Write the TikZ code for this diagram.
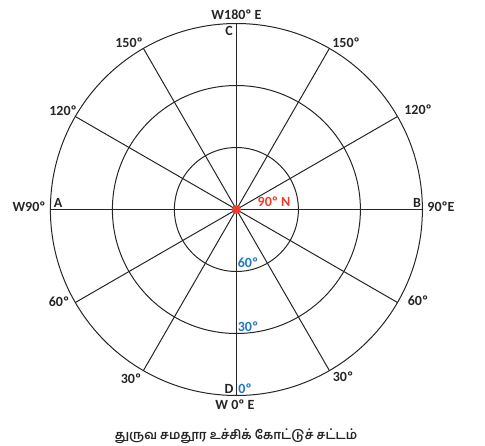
\documentclass[tikz,border=0pt]{standalone}
\usepackage{fontspec}
\setmainfont{Carlito}
\newfontfamily\tamil[Script=Tamil]{Hind Madurai}
\definecolor{ink}{HTML}{262626}
\definecolor{dotred}{HTML}{F03C2A}
\definecolor{lblue}{HTML}{1F78C8}
\begin{document}
\begin{tikzpicture}[x=1pt,y=-1pt,
  grid/.style={draw=ink,line width=1pt},
  lbl/.style={font=\bfseries\fontsize{14}{16}\selectfont,text=ink,inner sep=0pt},
  rlbl/.style={lbl,text=dotred},
  blbl/.style={lbl,text=lblue}]
\useasboundingbox (0,0) rectangle (485,445);
\coordinate (O) at (236.4,209.5);
\foreach \r in {62,124,186} \draw[grid] (O) circle[radius=\r];
\foreach \a in {0,30,...,330} \draw[grid] (O) -- ++(\a:186 and -186);
\fill[dotred] (O) circle[radius=4.5];
% labels
\node[lbl] (top) at (236.5,15) {W180º E};
\node[lbl] (c) at (229,31) {C};
\node[lbl] (d) at (229,389) {D};
\node[blbl] (z) at (245,389) {0º};
\node[lbl] (bot) at (235,405) {W 0º E};
\node[lbl] (w90) at (29,207) {W90º};
\node[lbl] (a) at (58,203) {A};
\node[lbl] (b) at (417,203) {B};
\node[lbl] (e90) at (441,207) {90ºE};
\node[rlbl] (n90) at (274,202) {90º N};
\node[blbl] (s60) at (248,263) {60º};
\node[blbl] (s30) at (248,327) {30º};
\node[lbl] (l150) at (129,43) {150º};
\node[lbl] (l120) at (63,111) {120º};
\node[lbl] (l60) at (59,302) {60º};
\node[lbl] (l30) at (131,379) {30º};
\node[lbl] (r150) at (346,43) {150º};
\node[lbl] (r120) at (418,110) {120º};
\node[lbl] (r60) at (418,301) {60º};
\node[lbl] (r30) at (343,377) {30º};
\node[inner sep=0pt,text=ink] (cap) at (236,436) {\tamil\bfseries\fontsize{12.5}{15}\selectfont துருவ சமதூர உச்சிக் கோட்டுச் சட்டம்};
\end{tikzpicture}
\end{document}
